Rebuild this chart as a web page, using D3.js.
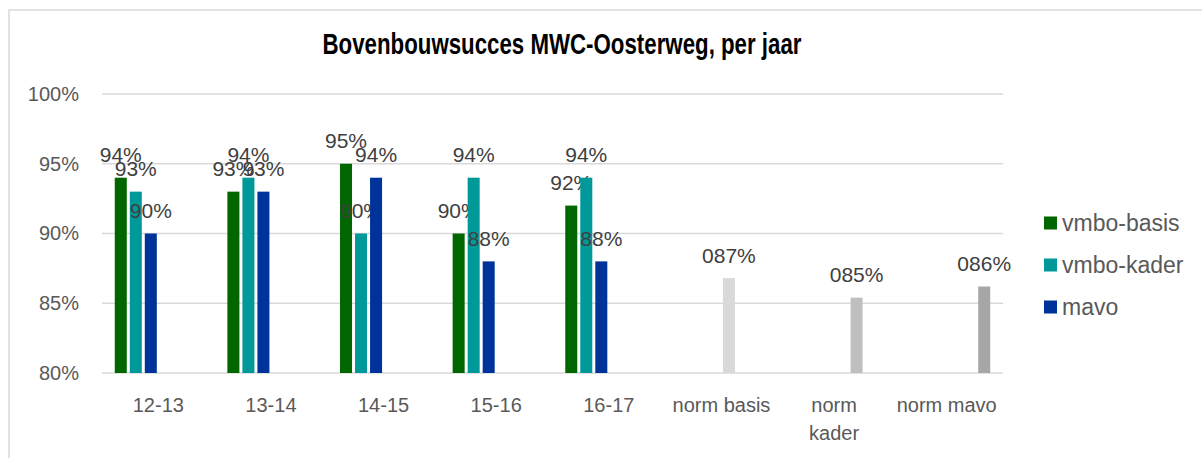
<!DOCTYPE html>
<html>
<head>
<meta charset="utf-8">
<script src="https://cdn.jsdelivr.net/npm/d3@7"></script>
<style>
  body { margin: 0; background: #fff; }
  svg { display: block; font-family: "Liberation Sans", Arial, sans-serif; }
</style>
</head>
<body>
<script>
// categories on the x axis
var years = ["12-13", "13-14", "14-15", "15-16", "16-17"];
var normCats = ["norm basis", "norm kader", "norm mavo"];
var tickLabels = ["12-13", "13-14", "14-15", "15-16", "16-17", "norm basis", "norm\nkader", "norm mavo"];

// series values (percent)
var vmboBasis = [94, 93, 95, 90, 92];
var vmboKader = [93, 94, 90, 94, 94];
var mavo = [90, 93, 94, 88, 88];
var normValues = [86.8, 85.4, 86.2];

var yTicks = [80, 85, 90, 95, 100];
var legendNames = ["vmbo-basis", "vmbo-kader", "mavo"];

var w = 1202;
var h = 458;

var categories = years.concat(normCats);

// six series, like the spreadsheet: three school types + three norm bars
var series = [
  { name: "vmbo-basis", color: "#006600", values: years.map(function(y, i) { return { cat: y, v: vmboBasis[i] }; }) },
  { name: "vmbo-kader", color: "#009999", values: years.map(function(y, i) { return { cat: y, v: vmboKader[i] }; }) },
  { name: "mavo", color: "#003399", values: years.map(function(y, i) { return { cat: y, v: mavo[i] }; }) },
  { name: "norm basis", color: "#d9d9d9", norm: true, values: [{ cat: normCats[0], v: normValues[0] }] },
  { name: "norm kader", color: "#bfbfbf", norm: true, values: [{ cat: normCats[1], v: normValues[1] }] },
  { name: "norm mavo", color: "#a6a6a6", norm: true, values: [{ cat: normCats[2], v: normValues[2] }] }
];

var svg = d3.select("body").append("svg")
  .attr("width", w)
  .attr("height", h);

// chart border (only left and top visible)
svg.append("rect")
  .attr("x", 9)
  .attr("y", 10)
  .attr("width", w + 20)
  .attr("height", h + 20)
  .attr("fill", "none")
  .attr("stroke", "#d9d9d9")
  .attr("stroke-width", 1.5);

// title
svg.append("text")
  .attr("x", 562)
  .attr("y", 54)
  .attr("text-anchor", "middle")
  .attr("font-family", "'Liberation Sans Narrow', 'Liberation Sans', Arial, sans-serif")
  .attr("font-weight", "bold")
  .attr("font-size", 29)
  .attr("textLength", 479)
  .attr("lengthAdjust", "spacingAndGlyphs")
  .attr("fill", "#000")
  .text("Bovenbouwsucces MWC-Oosterweg, per jaar");

var xScale = d3.scaleBand()
  .domain(categories)
  .range([102, 1003])
  .paddingInner(0.2)
  .paddingOuter(0.1);

var xInner = d3.scaleBand()
  .domain(series.map(function(s) { return s.name; }))
  .range([0, xScale.bandwidth()])
  .paddingInner(0.2)
  .paddingOuter(0.1);

var yScale = d3.scaleLinear()
  .domain([80, 100])
  .range([373, 94]);

// gridlines
svg.append("g")
  .selectAll("line")
  .data(yTicks)
  .enter().append("line")
  .attr("x1", 102)
  .attr("x2", 1003)
  .attr("y1", function(d) { return yScale(d); })
  .attr("y2", function(d) { return yScale(d); })
  .attr("stroke", "#d9d9d9")
  .attr("stroke-width", 1.5);

// y axis labels
var yAxis = svg.append("g")
  .attr("transform", "translate(88,0)")
  .call(d3.axisLeft(yScale).tickValues(yTicks).tickSize(0).tickPadding(9)
    .tickFormat(function(d) { return d + "%"; }));
yAxis.select(".domain").remove();
yAxis.selectAll("text")
  .attr("font-family", "'Liberation Sans', Arial, sans-serif")
  .attr("font-size", 20)
  .attr("fill", "#595959");

// bars
var groups = svg.selectAll(".serie")
  .data(series)
  .enter().append("g")
  .attr("class", "serie");

groups.selectAll("rect")
  .data(function(s) { return s.values.map(function(d) { return { s: s, cat: d.cat, v: d.v }; }); })
  .enter().append("rect")
  .attr("x", function(d) { return xScale(d.cat) + xInner(d.s.name); })
  .attr("y", function(d) { return yScale(d.v); })
  .attr("width", xInner.bandwidth())
  .attr("height", function(d) { return yScale(80) - yScale(d.v); })
  .attr("fill", function(d) { return d.s.color; });

// value labels
groups.selectAll("text")
  .data(function(s) { return s.values.map(function(d) { return { s: s, cat: d.cat, v: d.v }; }); })
  .enter().append("text")
  .attr("x", function(d) { return xScale(d.cat) + xInner(d.s.name) + xInner.bandwidth() / 2; })
  .attr("y", function(d) { return yScale(d.v) - 15.5; })
  .attr("text-anchor", "middle")
  .attr("font-size", 21)
  .attr("fill", "#404040")
  .text(function(d) {
    if (d.s.norm) return d3.format("03d")(Math.round(d.v)) + "%";
    return Math.round(d.v) + "%";
  });

// x category labels
var xLabels = svg.append("g")
  .selectAll("text")
  .data(categories)
  .enter().append("text")
  .attr("x", function(d) { return xScale(d) + xScale.bandwidth() / 2; })
  .attr("y", 412)
  .attr("text-anchor", "middle")
  .attr("font-size", 20)
  .attr("fill", "#595959");

xLabels.each(function(d, i) {
  var lines = tickLabels[i].split("\n");
  var t = d3.select(this);
  lines.forEach(function(line, j) {
    t.append("tspan")
      .attr("x", xScale(d) + xScale.bandwidth() / 2)
      .attr("dy", j == 0 ? 0 : 28)
      .text(line);
  });
});

// legend
var legenda = svg.selectAll(".legenda")
  .data(legendNames)
  .enter().append("g")
  .attr("class", "legenda")
  .attr("transform", function(d, i) {
    return "translate(1044," + (223 + i * 42) + ")";
  });

legenda.append("rect")
  .attr("x", 0)
  .attr("y", -6.5)
  .attr("width", 13)
  .attr("height", 13)
  .attr("fill", function(d, i) { return series[i].color; });

legenda.append("text")
  .attr("x", 18)
  .attr("y", 8)
  .attr("font-size", 23)
  .attr("fill", "#595959")
  .text(function(d) { return d; });
</script>
</body>
</html>
